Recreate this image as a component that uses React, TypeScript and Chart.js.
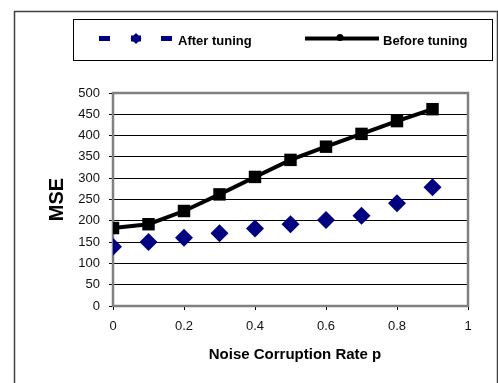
import { useEffect, useRef } from "react";
import { Chart, registerables } from "chart.js";

Chart.register(...registerables);

const noiseRates = [0, 0.1, 0.2, 0.3, 0.4, 0.5, 0.6, 0.7, 0.8, 0.9];
const afterTuning = [139, 150, 160, 171, 182, 192, 202, 212, 241, 279];
const beforeTuning = [183, 192, 223, 262, 303, 343, 374, 404, 434, 462];
const seriesLabels = ["After tuning", "Before tuning"];
const xTickLabels = ["0", "0.2", "0.4", "0.6", "0.8", "1"];
const xTitle = "Noise Corruption Rate p";
const yTitle = "MSE";

const NAVY = "#000080";
const FONT = "'Liberation Sans', Arial, sans-serif";
const TEXT = "#111";

const decorPlugin = {
  id: "decor",
  beforeDraw(chart: any) {
    const ctx = chart.ctx;
    ctx.save();
    ctx.fillStyle = "#ffffff";
    ctx.fillRect(0, 0, chart.width, chart.height);
    ctx.strokeStyle = "#404040";
    ctx.lineWidth = 1.5;
    ctx.strokeRect(14.5, 11.5, 483, 400);
    ctx.restore();
  },
  beforeDatasetsDraw(chart: any) {
    const ctx = chart.ctx;
    const a = chart.chartArea;
    ctx.save();
    ctx.strokeStyle = "#808080";
    ctx.lineWidth = 2.5;
    ctx.strokeRect(a.left, a.top, a.right - a.left, a.bottom - a.top);
    ctx.restore();
  },
  afterDraw(chart: any) {
    const ctx = chart.ctx;
    ctx.save();
    ctx.strokeStyle = "#000";
    ctx.lineWidth = 1;
    ctx.strokeRect(73.5, 19.5, 419, 41);
    const y = 38.5;
    ctx.fillStyle = NAVY;
    ctx.fillRect(99, 36, 11, 5);
    ctx.fillRect(161, 36, 11, 5);
    ctx.beginPath();
    ctx.moveTo(136, y - 5.5);
    ctx.lineTo(141.5, y);
    ctx.lineTo(136, y + 5.5);
    ctx.lineTo(130.5, y);
    ctx.closePath();
    ctx.fill();
    ctx.fillRect(131, 35.5, 10, 6);
    ctx.strokeStyle = "#000";
    ctx.lineWidth = 4;
    ctx.beginPath();
    ctx.moveTo(305, y);
    ctx.lineTo(379, y);
    ctx.stroke();
    ctx.fillStyle = "#000";
    ctx.beginPath();
    ctx.arc(340, y - 1, 3.5, 0, Math.PI * 2);
    ctx.fill();
    ctx.fillStyle = "#000";
    ctx.font = `bold 13px ${FONT}`;
    ctx.textBaseline = "middle";
    ctx.textAlign = "left";
    ctx.fillText(seriesLabels[0], 178, 41);
    ctx.fillText(seriesLabels[1], 383, 41);
    // x axis title
    ctx.font = `bold 15px ${FONT}`;
    ctx.textAlign = "center";
    ctx.fillText(xTitle, 295, 355);
    ctx.restore();
  },
};

export default function App() {
  const ref = useRef<HTMLCanvasElement | null>(null);

  useEffect(() => {
    if (!ref.current) return;
    const chart = new Chart(ref.current, {
      type: "scatter",
      data: {
        datasets: [
          {
            label: seriesLabels[1],
            data: noiseRates.map((x, i) => ({ x, y: beforeTuning[i] })),
            showLine: true,
            borderColor: "#000",
            borderWidth: 4,
            backgroundColor: "#000",
            pointStyle: "rect",
            pointRadius: 8.8,
            pointBorderWidth: 0,
            pointBackgroundColor: "#000",
          },
          {
            label: seriesLabels[0],
            data: noiseRates.map((x, i) => ({ x, y: afterTuning[i] })),
            showLine: false,
            borderColor: NAVY,
            backgroundColor: NAVY,
            pointStyle: "rectRot",
            pointRadius: 9,
            pointBorderWidth: 0,
            pointBackgroundColor: NAVY,
          },
        ],
      },
      options: {
        animation: false,
        responsive: false,
        maintainAspectRatio: false,
        devicePixelRatio: 1,
        layout: { padding: { top: 93, left: 40, right: 30, bottom: 10 } },
        plugins: {
          legend: { display: false },
          tooltip: { enabled: false },
          title: { display: false },
        },
        scales: {
          x: {
            type: "linear",
            min: 0,
            max: 1,
            ticks: {
              stepSize: 0.2,
              padding: 9,
              color: TEXT,
              font: { family: FONT, size: 13 },
              maxRotation: 0,
              callback: (_v: any, i: number) => xTickLabels[i],
            },
            grid: {
              display: true,
              drawOnChartArea: false,
              drawTicks: true,
              tickLength: 4,
              tickColor: "#000",
              color: "#000",
            },
            border: { display: false },
            title: { display: false, text: xTitle },
            afterFit(scale: any) {
              scale.height = 67;
            },
          },
          y: {
            type: "linear",
            min: 0,
            max: 500,
            ticks: {
              stepSize: 50,
              padding: 9,
              color: TEXT,
              font: { family: FONT, size: 13 },
            },
            grid: {
              color: "#000",
              lineWidth: 1,
              drawTicks: true,
              tickLength: 4,
              tickColor: "#000",
            },
            border: { display: false },
            title: {
              display: true,
              text: yTitle,
              color: "#000",
              font: { family: FONT, size: 20, weight: "bold" },
              padding: { top: 5, bottom: 0 },
            },
            afterFit(scale: any) {
              scale.width = 73;
            },
          },
        },
      },
      plugins: [decorPlugin],
    });
    return () => chart.destroy();
  }, []);

  return (
    <div style={{ position: "fixed", left: 0, top: 0, width: 498, height: 383 }}>
      <canvas ref={ref} width={498} height={383} style={{ display: "block", width: 498, height: 383 }} />
    </div>
  );
}
